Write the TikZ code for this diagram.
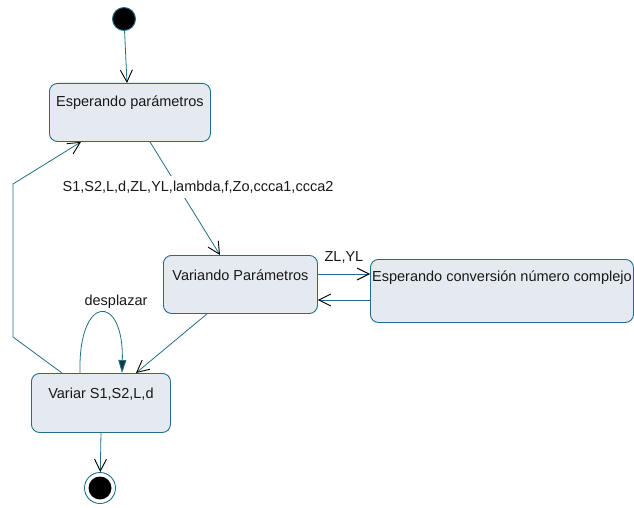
\documentclass[tikz,border=0pt]{standalone}
\usepackage{fontspec}
\setmainfont{Liberation Sans}
\usetikzlibrary{arrows.meta}
\definecolor{edge}{RGB}{34,110,136}
\definecolor{boxfill}{RGB}{229,233,240}
\definecolor{tip}{RGB}{25,55,65}
\tikzset{
  txt/.style={font=\fontsize{14.5}{17}\selectfont, text=black!90},
  state/.style={txt, draw=edge, fill=boxfill, line width=0.9pt, rounded corners=8pt, inner sep=0pt, anchor=north west},
  tr/.style={draw=edge, line width=0.8pt, -{Straight Barb[length=12pt,width=12pt,black,line width=0.9pt]}},
  lbl/.style={txt, inner sep=1pt},
}
\begin{document}
\begin{tikzpicture}[x=1pt,y=-1pt]
  \useasboundingbox (0,0) rectangle (634,508);
  % states
  \node[state, minimum width=161pt, text height=23pt, text depth=35pt] (esp) at (49,83) {Esperando parámetros};
  \node[state, minimum width=154pt, text height=25pt, text depth=33pt] (var) at (163,255) {Variando Parámetros};
  \node[state, minimum width=263pt, text height=22pt, text depth=41pt] (conv) at (370,259) {Esperando conversión número complejo};
  \node[state, minimum width=139pt, text height=25pt, text depth=34pt] (vs) at (31,373) {Variar S1,S2,L,d};
  \node[circle, draw=edge, fill=black, line width=0.9pt, minimum size=23pt, inner sep=0pt] (ini) at (124,19) {};
  \node[circle, draw=edge, fill=white, line width=0.9pt, minimum size=31pt, inner sep=0pt,
        path picture={\fill[black] (path picture bounding box.center) circle (11.5pt);}] (fin) at (100,488) {};
  % transitions
  \draw[tr] (ini) -- ([xshift=78pt]esp.north west);
  \draw[tr] ([xshift=101pt]esp.south west) -- node[lbl, pos=0.4, xshift=20pt, fill=white, inner ysep=5pt] {S1,S2,L,d,ZL,YL,lambda,f,Zo,ccca1,ccca2} ([xshift=57pt]var.north west);
  \draw[tr] ([yshift=-19pt]var.north east) -- node[lbl, above=9pt] {ZL,YL} ([yshift=-19pt]var.north east -| conv.west);
  \draw[tr] ([yshift=-45pt]var.north east -| conv.west) -- ([yshift=-45pt]var.north east);
  \draw[tr] ([xshift=44pt]var.south west) -- ([xshift=105pt]vs.north west);
  \draw[edge, line width=0.8pt, -{Triangle[length=13pt,width=8pt,fill=tip]}] ([xshift=49pt]vs.north west) .. controls +(-2,-80) and +(2,-80) .. node[lbl, above=3pt, xshift=15pt] {desplazar} ([xshift=91pt]vs.north west);
  \coordinate (c1) at (13,337);
  \coordinate (c2) at (13,184);
  \draw[tr] ([xshift=31pt]vs.north west) -- (c1) -- (c2) -- ([xshift=32pt]esp.south west);
  \draw[tr] ([xshift=70pt]vs.south west) -- (fin);
\end{tikzpicture}
\end{document}
